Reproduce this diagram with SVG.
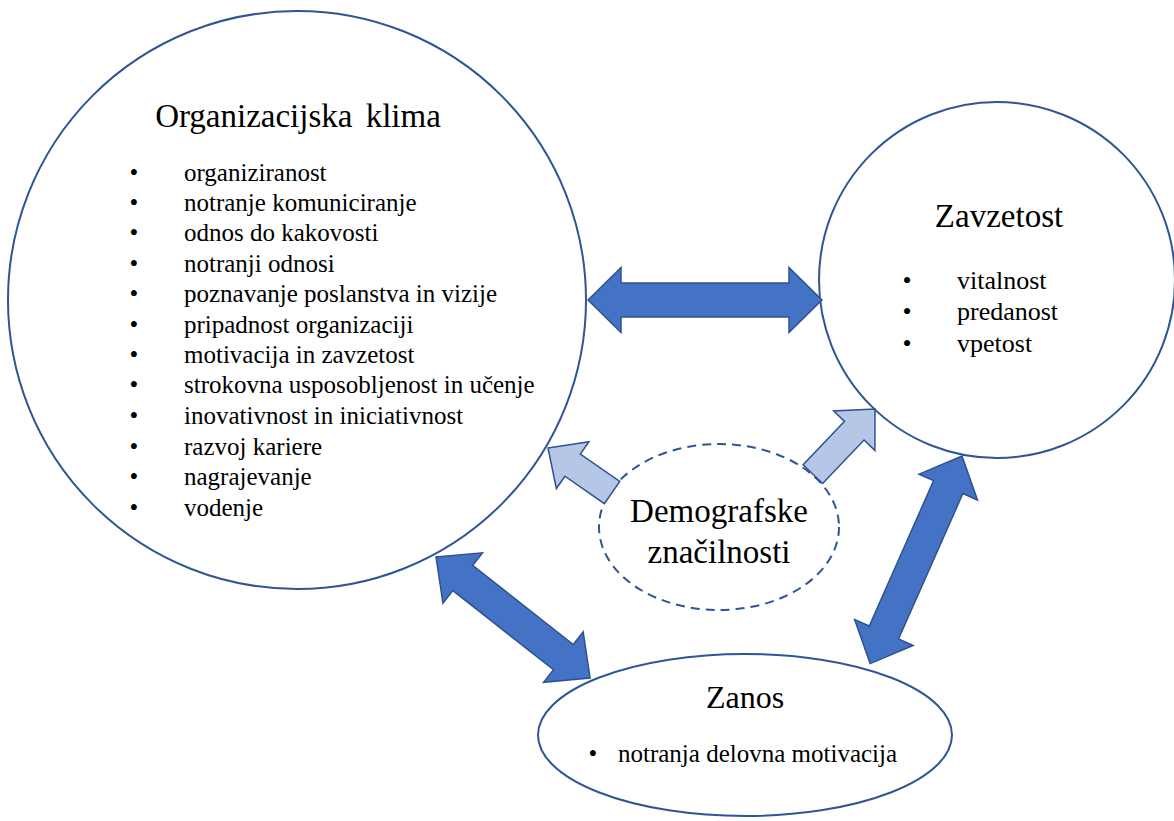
<svg xmlns="http://www.w3.org/2000/svg" width="1174" height="821" viewBox="0 0 1174 821" font-family="'Liberation Serif', 'Times New Roman', Times, 'DejaVu Serif', serif">
  <style>
    .node { fill: #ffffff; stroke: #2F5597; stroke-width: 2; }
    .dashed { fill: #ffffff; stroke: #2F5597; stroke-width: 2; stroke-dasharray: 9 6; }
    .dark { fill: #4472C4; stroke: #2F528F; stroke-width: 1.5; stroke-linejoin: miter; }
    .light { fill: #B4C7E7; stroke: #2F528F; stroke-width: 1.5; stroke-linejoin: miter; }
    text { fill: #000000; }
    .title { font-size: 33px; }
    .item { font-size: 25px; }
    .item26 { font-size: 26px; }
  </style>
  <rect width="1174" height="821" fill="#ffffff"/>

  <g id="node-organizacijska-klima">
    <circle class="node" cx="297" cy="300" r="289"/>
    <text class="title" x="298" y="127" text-anchor="middle" word-spacing="5">Organizacijska klima</text>
    <g class="item">
      <text x="134" y="181" text-anchor="middle">•</text><text x="184" y="181">organiziranost</text>
      <text x="134" y="211" text-anchor="middle">•</text><text x="184" y="211">notranje komuniciranje</text>
      <text x="134" y="241" text-anchor="middle">•</text><text x="184" y="241">odnos do kakovosti</text>
      <text x="134" y="272" text-anchor="middle">•</text><text x="184" y="272">notranji odnosi</text>
      <text x="134" y="302" text-anchor="middle">•</text><text x="184" y="302">poznavanje poslanstva in vizije</text>
      <text x="134" y="333" text-anchor="middle">•</text><text x="184" y="333">pripadnost organizaciji</text>
      <text x="134" y="363" text-anchor="middle">•</text><text x="184" y="363">motivacija in zavzetost</text>
      <text x="134" y="393" text-anchor="middle">•</text><text x="184" y="393">strokovna usposobljenost in učenje</text>
      <text x="134" y="424" text-anchor="middle">•</text><text x="184" y="424">inovativnost in iniciativnost</text>
      <text x="134" y="455" text-anchor="middle">•</text><text x="184" y="455">razvoj kariere</text>
      <text x="134" y="485" text-anchor="middle">•</text><text x="184" y="485">nagrajevanje</text>
      <text x="134" y="516" text-anchor="middle">•</text><text x="184" y="516">vodenje</text>
    </g>
  </g>

  <g id="node-zavzetost">
    <circle class="node" cx="997" cy="280" r="178"/>
    <text class="title" x="999" y="227" text-anchor="middle">Zavzetost</text>
    <g class="item26">
      <text x="907" y="289" text-anchor="middle">•</text><text x="957" y="289">vitalnost</text>
      <text x="907" y="320" text-anchor="middle">•</text><text x="957" y="320">predanost</text>
      <text x="907" y="352" text-anchor="middle">•</text><text x="957" y="352">vpetost</text>
    </g>
  </g>

  <g id="node-zanos">
    <ellipse class="node" cx="745" cy="735" rx="207" ry="81"/>
    <text x="745" y="708" text-anchor="middle" font-size="32">Zanos</text>
    <g class="item">
      <text x="593" y="762" text-anchor="middle">•</text><text x="618" y="762">notranja delovna motivacija</text>
    </g>
  </g>

  <g id="node-demografske">
    <ellipse class="dashed" cx="719" cy="527" rx="120" ry="83"/>
    <text class="title" x="719" y="522" text-anchor="middle">Demografske</text>
    <text class="title" x="719" y="563" text-anchor="middle">značilnosti</text>
  </g>

  <g id="connectors">
    <polygon class="dark" points="588,300 621,267.5 621,283 789,283 789,267.5 822,300 789,332.5 789,317 621,317 621,332.5"/>
    <path class="dark" transform="translate(436,557) rotate(38.16)" d="M0,0 L34,-32 L34,-16 L162,-16 L162,-32 L196,0 L162,32 L162,16 L34,16 L34,32 Z"/>
    <path class="dark" transform="translate(962,456) rotate(113.87)" d="M0,0 L34,-32 L34,-16 L193,-16 L193,-32 L227,0 L193,32 L193,16 L34,16 L34,32 Z"/>
    <path class="light" transform="translate(548,448) rotate(34.8)" d="M0,0 L30,-28.5 L30,-13.5 L78,-13.5 L78,13.5 L30,13.5 L30,28.5 Z"/>
    <path class="light" transform="translate(875,409) rotate(133.65)" d="M0,0 L30,-28.5 L30,-13.5 L90,-13.5 L90,13.5 L30,13.5 L30,28.5 Z"/>
  </g>
</svg>
